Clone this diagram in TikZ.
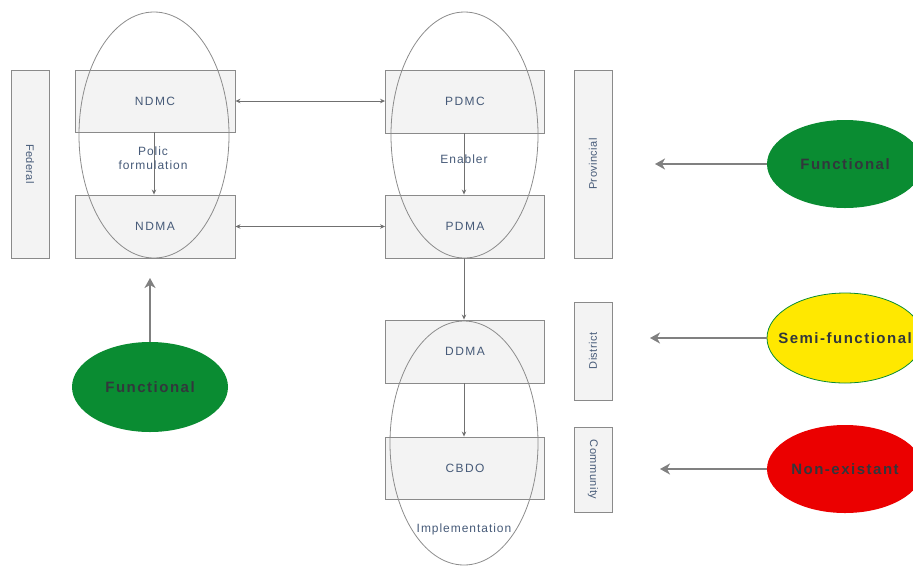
\documentclass[tikz,border=0pt]{standalone}
\usepackage{fontspec}
\setmainfont{Liberation Sans}
\newfontfamily\boxfont[LetterSpace=12]{Liberation Sans}
\newfontfamily\notefont[LetterSpace=8]{Liberation Sans}
\newfontfamily\barfont[LetterSpace=4]{Liberation Sans}
\newfontfamily\statfont[LetterSpace=10]{Liberation Sans}
\usetikzlibrary{shapes.geometric,arrows.meta}
\definecolor{boxline}{RGB}{138,138,138}
\definecolor{boxfill}{RGB}{243,243,243}
\definecolor{lbl}{RGB}{70,90,120}
\definecolor{conn}{RGB}{112,112,112}
\definecolor{ovline}{RGB}{140,140,140}
\definecolor{fat}{RGB}{128,128,128}
\definecolor{fgreen}{RGB}{10,140,50}
\definecolor{fyellow}{RGB}{255,232,0}
\definecolor{fred}{RGB}{235,0,0}
\definecolor{stxt}{RGB}{50,55,60}
\tikzset{
  lvl/.style={draw=boxline, fill=boxfill, line width=0.9pt, minimum width=#1, inner sep=0pt},
  bartext/.style={font=\barfont\fontsize{11}{13}\selectfont, text=lbl},
  orgbox/.style={draw=boxline, fill=boxfill, line width=0.9pt, minimum width=159pt, minimum height=62pt, inner sep=0pt, font=\boxfont\fontsize{12}{14}\selectfont, text=lbl},
  oval/.style={ellipse, draw=ovline, line width=0.8pt, inner sep=0pt},
  note/.style={font=\notefont\fontsize{12}{14}\selectfont, text=lbl, align=center},
  conn/.style={draw=conn, line width=1pt, -{Stealth[length=5pt,width=4.5pt]}},
  biconn/.style={draw=conn, line width=1pt, {Stealth[length=5pt,width=4.5pt]}-{Stealth[length=5pt,width=4.5pt]}},
  status/.style={ellipse, minimum width=156pt, minimum height=88pt, inner sep=0pt,
    label={[font=\statfont\fontsize{15}{17}\selectfont\bfseries, text=stxt]center:#1}},
  fatarrow/.style={draw=fat, line width=2.6pt, -{Stealth[length=10pt,width=11pt,inset=3pt]}}
}
\begin{document}
\begin{tikzpicture}[x=1pt,y=-1pt]
\useasboundingbox (0,0) rectangle (913,566);
\clip (0,0) rectangle (913,566);
% level bars
\node[lvl=38pt, minimum height=188pt] (federal) at (30,164) {};
\node[rotate=-90, bartext] (federalt) at (30,164) {Federal};
\node[lvl=38pt, minimum height=188pt] (provincial) at (593,164) {};
\node[rotate=90, bartext] (provt) at (593,164) {Provincial};
\node[lvl=38pt, minimum height=98pt] (district) at (593,351) {};
\node[rotate=90, bartext] (distt) at (593,351) {District};
\node[lvl=38pt, minimum height=85pt] (community) at (593,469.5) {};
\node[rotate=-90, bartext] (commt) at (593,469.5) {Community};
% org boxes
\node[orgbox, minimum width=160pt] (ndmc) at (155,101) {NDMC};
\node[orgbox, minimum width=160pt, minimum height=63pt] (ndma) at (155,226.5) {NDMA};
\node[orgbox, minimum height=63pt] (pdmc) at (465,101.5) {PDMC};
\node[orgbox, minimum height=63pt] (pdma) at (465,226.5) {PDMA};
\node[orgbox, minimum height=63pt] (ddma) at (465,351.5) {DDMA};
\node[orgbox] (cbdo) at (465,468) {CBDO};
% connectors
\draw[conn] (ndmc.south -| 154,0) -- (ndma.north -| 154,0);
\draw[conn] (pdmc.south -| 464,0) -- (pdma.north -| 464,0);
\draw[conn] (pdma.south -| 464,0) -- (ddma.north -| 464,0);
\draw[conn] (ddma.south -| 464,0) -- (cbdo.north -| 464,0);
\draw[biconn] (ndmc.east) -- (pdmc.west |- ndmc.east);
\draw[biconn] (ndma.east) -- (pdma.west |- ndma.east);
% grouping ovals
\node[oval, minimum width=150pt, minimum height=246pt] (policyoval) at (154,135) {};
\node[oval, minimum width=147pt, minimum height=246pt] (enableoval) at (464.5,135) {};
\node[oval, minimum width=148pt, minimum height=244pt] (implov) at (464,443) {};
\node[note] (policy) at (153,158) {Polic\\formulation};
\node[note] (enabler) at (464,159) {Enabler};
\node[note] (impl) at (464,529) {Implementation};
% status
\node[status=Functional, fill=fgreen] (func1) at (845,164) {};
\node[status=Semi-functional, fill=fyellow, draw=fgreen, line width=0.8pt, minimum height=90pt] (semi) at (845,338) {};
\node[status=Non-existant, fill=fred] (nonex) at (845,469) {};
\node[status=Functional, fill=fgreen, minimum height=90pt] (func2) at (150,387) {};
\coordinate (t1) at (655,164);
\coordinate (t2) at (650,338);
\coordinate (t3) at (660,469);
\coordinate (t4) at (150,278);
\draw[fatarrow] (func1.west) -- (t1);
\draw[fatarrow] (semi.west) -- (t2);
\draw[fatarrow] (nonex.west) -- (t3);
\draw[fatarrow] (func2.north) -- (t4);
\end{tikzpicture}
\end{document}
